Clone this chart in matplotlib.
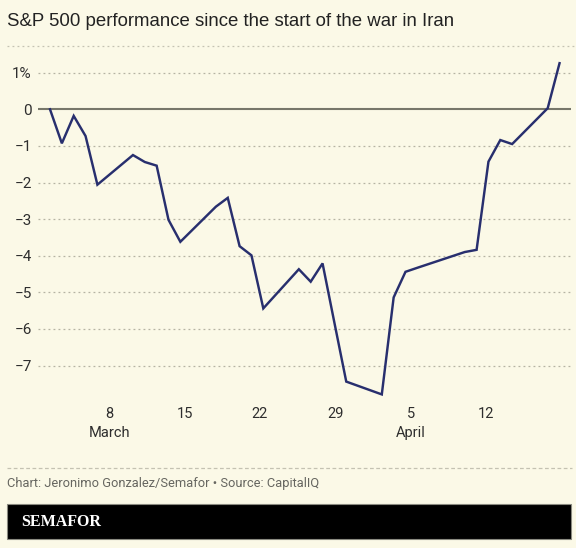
import matplotlib
matplotlib.use('Agg')
import matplotlib.pyplot as plt
from matplotlib.patches import Rectangle
from matplotlib.lines import Line2D

# trading days, counted as day of March (April 1 = 32)
days = [2, 3, 4, 5, 6,
        9, 10, 11, 12, 13,
        16, 17, 18, 19, 20,
        23, 24, 25, 26, 27,
        30, 31, 32, 33,
        37, 38, 39, 40, 41,
        44, 45]

# % change since start
perf = [0.0, -0.93, -0.18, -0.73, -2.06,
        -1.25, -1.44, -1.54, -3.02, -3.62,
        -2.66, -2.42, -3.74, -3.99, -5.44,
        -4.37, -4.71, -4.21, -5.83, -7.44,
        -7.79, -5.14, -4.44, -4.33,
        -3.90, -3.84, -1.43, -0.84, -0.95,
        0.03, 1.26]

# x tick labels, placed where the original chart drew them
tick_pos = [7.0, 13.4, 19.7, 26.1, 32.45, 38.8]
tick_labels = ['8\nMarch', '15', '22', '29', '5\nApril', '12']

y_ticks = [1, 0, -1, -2, -3, -4, -5, -6, -7]
y_labels = ['1%', '0', '\u22121', '\u22122', '\u22123', '\u22124', '\u22125', '\u22126', '\u22127']

bg = '#fbf9e7'
navy = '#282f6e'

W, H = 576, 548
fig = plt.figure(figsize=(W / 100, H / 100), dpi=100, facecolor=bg)

# axes box in pixels
left, right, top, bottom = 38, 571, 58, 400
ax = fig.add_axes([left / W, 1 - bottom / H, (right - left) / W, (bottom - top) / H])
ax.set_facecolor(bg)

ax.plot(days, perf, color=navy, lw=1.75, solid_joinstyle='miter', zorder=3)

# x: day 2 at px 50, 11.85 px per day
px_day = 11.85
ax.set_xlim(2 - (50 - left) / px_day, 2 + (right - 50) / px_day)
# y: 0 at px 109.3, 36.6 px per %
px_pct = 36.6
ax.set_ylim(-(bottom - 109.3) / px_pct, (109.3 - top) / px_pct)

for v in y_ticks:
    if v == 0:
        ax.axhline(0, color='#77776a', lw=1.5, zorder=2)
    else:
        ax.axhline(v, color='#b5b3a3', lw=0.9, ls=(0, (1.5, 2.5)), zorder=1)

for s in ax.spines.values():
    s.set_visible(False)

ax.set_yticks(y_ticks)
ax.set_yticklabels(y_labels, family='Roboto', fontsize=11, color='#2e2e2e')
ax.tick_params(axis='y', length=0, pad=4.5)

ax.set_xticks(tick_pos)
ax.set_xticklabels(tick_labels, family='Roboto', fontsize=10.5, color='#2e2e2e', linespacing=1.45)
ax.tick_params(axis='x', length=0, pad=5)

# header
fig.text(7 / W, 1 - 22 / H, 'S&P 500 performance since the start of the war in Iran',
         family='Liberation Sans', fontsize=13.4, color='#222222', va='center', ha='left')
fig.add_artist(Line2D([7 / W, 1], [1 - 45.7 / H] * 2, color='#c4c2b2', lw=0.9,
                      ls=(0, (1.5, 2.5)), transform=fig.transFigure))

# footer
fig.add_artist(Line2D([7 / W, 572 / W], [1 - 467.5 / H] * 2, color='#c4c2b2', lw=0.9,
                      ls=(0, (3, 2)), transform=fig.transFigure))
fig.text(7 / W, 1 - 484 / H, 'Chart: Jeronimo Gonzalez/Semafor \u2022 Source: CapitalIQ',
         family='Roboto', fontsize=9.3, color='#666660', va='center', ha='left')

fig.add_artist(Rectangle((7 / W, 1 - 539.3 / H), (570.7 - 7) / W, 35 / H,
                         facecolor='black', edgecolor='#8a8a80', lw=0.8,
                         transform=fig.transFigure))
fig.text(21 / W, 1 - 522 / H, 'SEMAFOR', family='Liberation Serif', fontweight='bold',
         fontsize=11.5, color='white', va='center', ha='left')

fig.savefig('out.png', dpi=100, facecolor=bg)
